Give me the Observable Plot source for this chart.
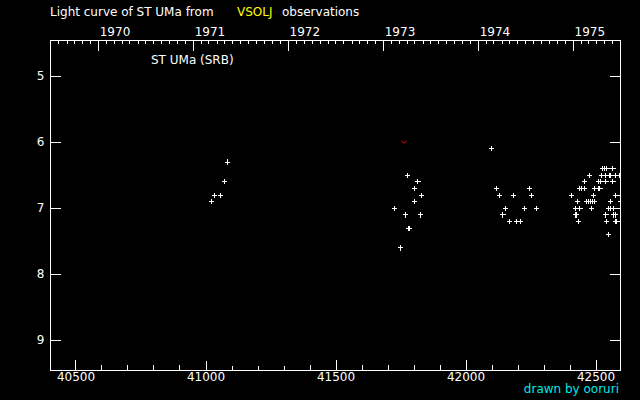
<!DOCTYPE html>
<html><head><meta charset="utf-8">
<script src="https://cdn.jsdelivr.net/npm/d3@7"></script>
<script src="https://cdn.jsdelivr.net/npm/@observablehq/plot@0.6"></script>
<style>
html,body{margin:0;padding:0;background:#000;}
#chart{width:640px;height:400px;}
</style></head><body>
<div id="chart"></div>
<script>
// Visual observations (JD - 2400000) and magnitudes
const obsJD = [
  41022, 41034, 41057, 41072, 41084,
  41726, 41749, 41768, 41776, 41780, 41784, 41803, 41803, 41815, 41826, 41830,
  42099, 42118, 42130, 42142, 42153, 42168, 42184, 42195, 42211, 42226, 42245, 42253, 42272,
  42526, 42534, 42542, 42565,
  42476, 42522, 42538, 42553, 42557, 42576, 42592,
  42457, 42511, 42518, 42538, 42565,
  42438, 42445, 42457, 42495, 42511, 42515,
  42407, 42491, 42576, 42595,
  42430, 42465, 42472, 42480, 42488, 42495, 42557, 42595,
  42422, 42438, 42484, 42549, 42557, 42568,
  42422, 42426, 42538, 42568, 42576,
  42434, 42541, 42576, 42580, 42599,
  42549
];
const obsMag = [
  6.9, 6.8, 6.8, 6.6, 6.3,
  7.0, 7.6, 7.1, 6.5, 7.3, 7.3, 6.7, 6.9, 6.6, 7.1, 6.8,
  6.1, 6.7, 6.8, 7.1, 7.0, 7.2, 6.8, 7.2, 7.2, 7.0, 6.7, 6.8, 7.0,
  6.4, 6.4, 6.4, 6.4,
  6.5, 6.5, 6.5, 6.5, 6.5, 6.5, 6.5,
  6.6, 6.6, 6.6, 6.6, 6.6,
  6.7, 6.7, 6.7, 6.7, 6.7, 6.7,
  6.8, 6.8, 6.8, 6.8,
  6.9, 6.9, 6.9, 6.9, 6.9, 6.9, 6.9, 6.9,
  7.0, 7.0, 7.0, 7.0, 7.0, 7.0,
  7.1, 7.1, 7.1, 7.1, 7.1,
  7.2, 7.2, 7.2, 7.2, 7.2,
  7.4
];
// Fainter-than observations
const fainterJD = [41761];
const fainterMag = [6.0];

// Axis tick values
const jdMajorTicks = [40500, 41000, 41500, 42000, 42500];
const magTicks = [5, 6, 7, 8, 9];
const years = [1970, 1971, 1972, 1973, 1974, 1975];

const X0 = 40402, X1 = 42594;
const toJD = d => d.getTime() / 86400000 + 40587.5;
const yearJD = years.map(y => toJD(new Date(Date.UTC(y, 0, 1))));
const monthJD = d3.utcMonth.range(new Date(Date.UTC(1969, 6, 1)), new Date(Date.UTC(1975, 8, 1)))
  .map(toJD).filter(d => d >= X0 && d <= X1);
const jdMinorTicks = d3.range(40500, 42600, 100);

const obs = obsJD.map((jd, i) => ({jd, mag: obsMag[i]}));
const fainter = fainterJD.map((jd, i) => ({jd, mag: fainterMag[i]}));

const vSymbol = {draw(ctx) { ctx.moveTo(-2.5, -1.5); ctx.lineTo(0, 1.2); ctx.lineTo(2.5, -1.5); }};
const line = {draw(ctx, l) { ctx.moveTo(0, 0); ctx.lineTo(0, -l); }};

const tick = (data, opts) => Plot.vector(data, {length: opts.len, rotate: opts.rot, anchor: "start",
  shape: line, stroke: "#fff", strokeWidth: 1, shapeRendering: "crispEdges", ...opts.pos});

const plot = Plot.plot({
  width: 640, height: 400,
  marginLeft: 50, marginRight: 20, marginTop: 40, marginBottom: 30,
  style: {background: "#000", color: "#fff", fontFamily: "DejaVu Sans", fontSize: "12px"},
  x: {domain: [X0, X1], label: null},
  y: {domain: [4.46, 9.455], reverse: true, label: null},
  marks: [
    Plot.frame({stroke: "#fff", shapeRendering: "crispEdges"}),
    tick(jdMajorTicks, {len: 10, rot: 0, pos: {x: d => d, frameAnchor: "bottom"}}),
    tick(jdMinorTicks, {len: 5, rot: 0, pos: {x: d => d, frameAnchor: "bottom"}}),
    tick(yearJD, {len: 10, rot: 180, pos: {x: d => d, frameAnchor: "top"}}),
    tick(monthJD, {len: 3, rot: 180, pos: {x: d => d, frameAnchor: "top"}}),
    tick(magTicks, {len: 10, rot: 90, pos: {y: d => d, frameAnchor: "left"}}),
    tick(magTicks, {len: 10, rot: -90, pos: {y: d => d, frameAnchor: "right"}}),
    Plot.axisX(jdMajorTicks, {anchor: "bottom", tickSize: 0, tickPadding: 2, tickFormat: d => String(d), fill: "#fff", label: null}),
    Plot.axisX(yearJD, {anchor: "top", tickSize: 0, tickPadding: 5, textAnchor: "start", dx: 1,
      tickFormat: d => String(years[yearJD.indexOf(d)]), fill: "#fff", label: null}),
    Plot.axisY(magTicks, {anchor: "left", tickSize: 0, tickPadding: 6, tickFormat: d => String(d), fill: "#fff", label: null}),
    Plot.dot(obs, {x: "jd", y: "mag", symbol: "plus", r: 1.8, stroke: "#fff", strokeWidth: 1, clip: true, shapeRendering: "crispEdges"}),
    Plot.dot(fainter, {x: "jd", y: "mag", symbol: vSymbol, r: 2, stroke: "#ff0000", fill: "none", strokeWidth: 1, clip: true})
  ]
});

const svg = d3.select(plot);
const txt = (x, y, s, color, anchor) => svg.append("text").attr("x", x).attr("y", y)
  .attr("text-anchor", anchor || "start").attr("font-family", "DejaVu Sans").attr("font-size", 12)
  .attr("fill", color).text(s);
txt(50, 16, "Light curve of ST UMa from", "#fff");
txt(237, 16, "VSOLJ", "#ffff00");
txt(282, 16, "observations", "#fff");
txt(151, 64, "ST UMa (SRB)", "#fff");
txt(619, 393, "drawn by ooruri", "#00e8e8", "end");

document.getElementById("chart").appendChild(plot);
</script>
</body></html>
